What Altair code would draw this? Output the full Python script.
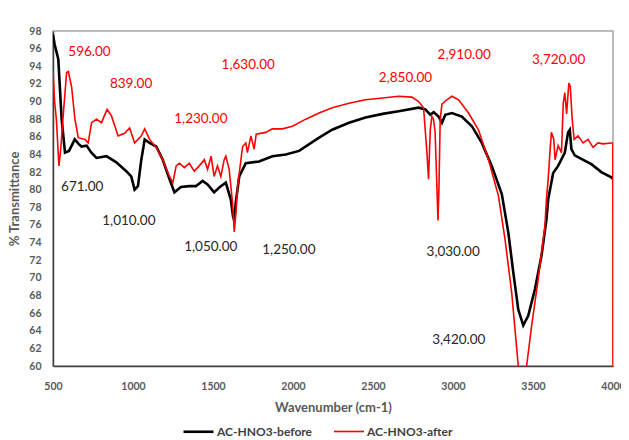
import altair as alt
import pandas as pd

# Wavenumber / transmittance
before_x = [500, 510, 533, 554, 575, 600, 636, 660, 678, 710, 740, 772, 834, 896, 958, 989, 1010, 1031, 1052,
            1073, 1104, 1145, 1186, 1228, 1259, 1300, 1352, 1393, 1435, 1466, 1507, 1549, 1580, 1611, 1625,
            1633, 1642, 1664, 1705, 1788, 1871, 1955, 2038, 2163, 2245, 2350, 2453, 2560, 2660, 2785, 2827,
            2858, 2879, 2910, 2931, 2952, 2993, 3055, 3118, 3180, 3242, 3305, 3346, 3377, 3408, 3439, 3470,
            3512, 3553, 3584, 3595, 3626, 3657, 3699, 3719, 3730, 3740, 3761, 3802, 3865, 3927, 3990, 4000]
before_y = [97.6, 96.5, 94.8, 88.0, 84.2, 84.4, 85.7, 85.2, 84.9, 85.0, 84.2, 83.6, 83.8, 83.1, 82.1, 81.5, 80.0,
            80.4, 83.4, 85.7, 85.3, 84.9, 83.4, 81.2, 79.7, 80.3, 80.4, 80.4, 81.0, 80.6, 79.7, 80.4, 80.8, 78.9,
            77.0, 76.5, 78.5, 81.5, 83.0, 83.2, 83.8, 84.0, 84.4, 85.9, 86.8, 87.6, 88.2, 88.6, 88.9, 89.3, 89.1,
            88.5, 88.8, 88.3, 87.6, 88.5, 88.7, 88.3, 87.2, 85.3, 82.7, 79.5, 75.1, 70.6, 66.4, 64.6, 65.7, 68.7,
            72.5, 76.6, 78.9, 81.9, 82.7, 84.2, 86.5, 86.8, 84.6, 83.9, 83.5, 82.9, 82.0, 81.4, 81.2]

after_x = [500, 510, 521, 537, 548, 562, 585, 596, 616, 637, 658, 700, 720, 741, 772, 803, 838, 865, 907, 948,
           979, 1010, 1052, 1073, 1104, 1145, 1186, 1228, 1249, 1270, 1290, 1321, 1352, 1383, 1414, 1446, 1466,
           1488, 1507, 1528, 1549, 1570, 1580, 1601, 1622, 1633, 1644, 1654, 1685, 1705, 1715, 1737, 1757,
           1770, 1830, 1871, 1933, 1996, 2080, 2163, 2245, 2350, 2453, 2560, 2660, 2743, 2785, 2816, 2837,
           2847, 2858, 2868, 2878, 2888, 2900, 2906, 2912, 2920, 2931, 2962, 2993, 3035, 3097, 3159, 3222,
           3284, 3325, 3367, 3408, 3435, 3460, 3491, 3532, 3574, 3584, 3595, 3605, 3615, 3630, 3638, 3657,
           3678, 3689, 3699, 3710, 3724, 3733, 3745, 3757, 3782, 3813, 3844, 3875, 3906, 3937, 3990, 3999, 4000]
after_y = [93.6, 90.0, 88.0, 82.7, 84.5, 88.0, 93.3, 93.4, 91.7, 88.0, 85.9, 85.7, 85.3, 87.6, 88.0, 87.6, 89.1,
           88.4, 86.1, 86.4, 87.0, 85.3, 86.1, 86.9, 85.7, 84.8, 83.4, 81.5, 80.8, 82.7, 83.0, 82.5, 83.0, 82.1,
           82.7, 83.4, 82.3, 83.8, 81.5, 82.7, 81.5, 83.4, 83.8, 82.3, 78.5, 75.2, 77.5, 80.4, 84.9, 85.3, 84.2,
           86.1, 84.6, 86.3, 86.5, 86.9, 86.9, 87.2, 88.0, 88.7, 89.3, 89.8, 90.2, 90.4, 90.6, 90.5, 90.0, 89.3,
           84.2, 81.2, 86.8, 88.3, 88.0, 86.6, 80.0, 76.5, 80.0, 88.0, 89.7, 90.2, 90.6, 90.2, 88.7, 86.8, 83.4,
           79.3, 74.4, 68.3, 60.0, 58.5, 60.0, 64.5, 69.8, 75.8, 78.9, 81.2, 84.0, 86.5, 85.7, 83.4, 85.0, 84.2,
           89.8, 91.0, 88.6, 92.1, 91.7, 88.0, 85.7, 86.1, 85.3, 85.7, 84.8, 85.3, 85.2, 85.3, 85.3, 58.0]

series_names = ["AC-HNO3-before", "AC-HNO3-after"]

red_label_text = ["596.00", "839.00", "1,230.00", "1,630.00", "2,850.00", "2,910.00", "3,720.00"]
red_label_x = [728, 988, 1424, 1720, 2703, 3070, 3660]
red_label_y = [95.6, 92.0, 88.0, 94.1, 92.7, 95.3, 94.7]

black_label_text = ["671.00", "1,010.00", "1,050.00", "1,250.00", "3,030.00", "3,420.00"]
black_label_x = [683, 974, 1486, 1974, 3001, 3036]
black_label_y = [80.3, 76.4, 73.5, 73.2, 72.9, 62.9]

x_ticks = [500, 1000, 1500, 2000, 2500, 3000, 3500, 4000]
y_ticks = list(range(60, 100, 2))

FONT = "Lato"

before_df = pd.DataFrame({"wn": before_x, "T": before_y, "series": series_names[0], "o": range(len(before_x))})
after_df = pd.DataFrame({"wn": after_x, "T": after_y, "series": series_names[1], "o": range(len(after_x))})
red_df = pd.DataFrame({"wn": red_label_x, "T": red_label_y, "label": red_label_text})
black_df = pd.DataFrame({"wn": black_label_x, "T": black_label_y, "label": black_label_text})

xscale = alt.Scale(domain=[500, 4000], nice=False)
yscale = alt.Scale(domain=[60, 98], nice=False, zero=False)

xaxis = alt.Axis(values=x_ticks, format="d", title="Wavenumber (cm-1)", grid=False, ticks=False,
                 labelPadding=15, titlePadding=10, labelFlush=False, labelOverlap=False)
yaxis = alt.Axis(values=y_ticks, format="d", title="% Transmittance", grid=False, ticks=False,
                 labelPadding=12, labelFlush=False, labelOverlap=False, tickCount=20,
                 titleX=-39, titleY=167.5, titleAngle=-90, titleAlign="center", titleBaseline="middle")

legend = alt.Legend(title=None, orient="none", legendX=129, legendY=384,
                    direction="horizontal", symbolType="stroke", symbolSize=900,
                    labelFontWeight="bold", labelFontSize=12, labelColor="#404040",
                    labelFont=FONT, columnPadding=18, labelOffset=2, labelLimit=300)
color = alt.Color("series:N", scale=alt.Scale(domain=series_names, range=["#000000", "#ff0000"]), legend=legend)
width = alt.StrokeWidth("series:N", scale=alt.Scale(domain=series_names, range=[2.6, 1.6]), legend=legend)


def line_layer(d):
    return alt.Chart(d).mark_line(clip=True).encode(
        x=alt.X("wn:Q", scale=xscale, axis=xaxis),
        y=alt.Y("T:Q", scale=yscale, axis=yaxis),
        color=color,
        strokeWidth=width,
        order="o:Q",
    )


def text_layer(d, col):
    return alt.Chart(d).mark_text(color=col, fontSize=13.5, font=FONT).encode(
        x=alt.X("wn:Q", scale=xscale, axis=xaxis),
        y=alt.Y("T:Q", scale=yscale, axis=yaxis),
        text="label:N")


chart = alt.layer(
    line_layer(before_df), line_layer(after_df),
    text_layer(red_df, "#ff0000"), text_layer(black_df, "#262626"),
).properties(
    width=560, height=335,
    autosize=alt.AutoSizeParams(type="none"),
    padding={"left": 45, "top": 23, "right": 8, "bottom": 82},
).configure_view(
    stroke="#a6a6a6", strokeWidth=1.5
).configure_axis(
    labelFont=FONT, labelFontWeight="bold", labelFontSize=10.5, labelColor="#595959",
    titleFont=FONT, titleFontWeight="bold", titleFontSize=13, titleColor="#595959",
    domainColor="#404040", domainWidth=1.5, labelOverlap=False,
)

chart.save("out.html", embed_options={"renderer": "svg", "actions": False})
